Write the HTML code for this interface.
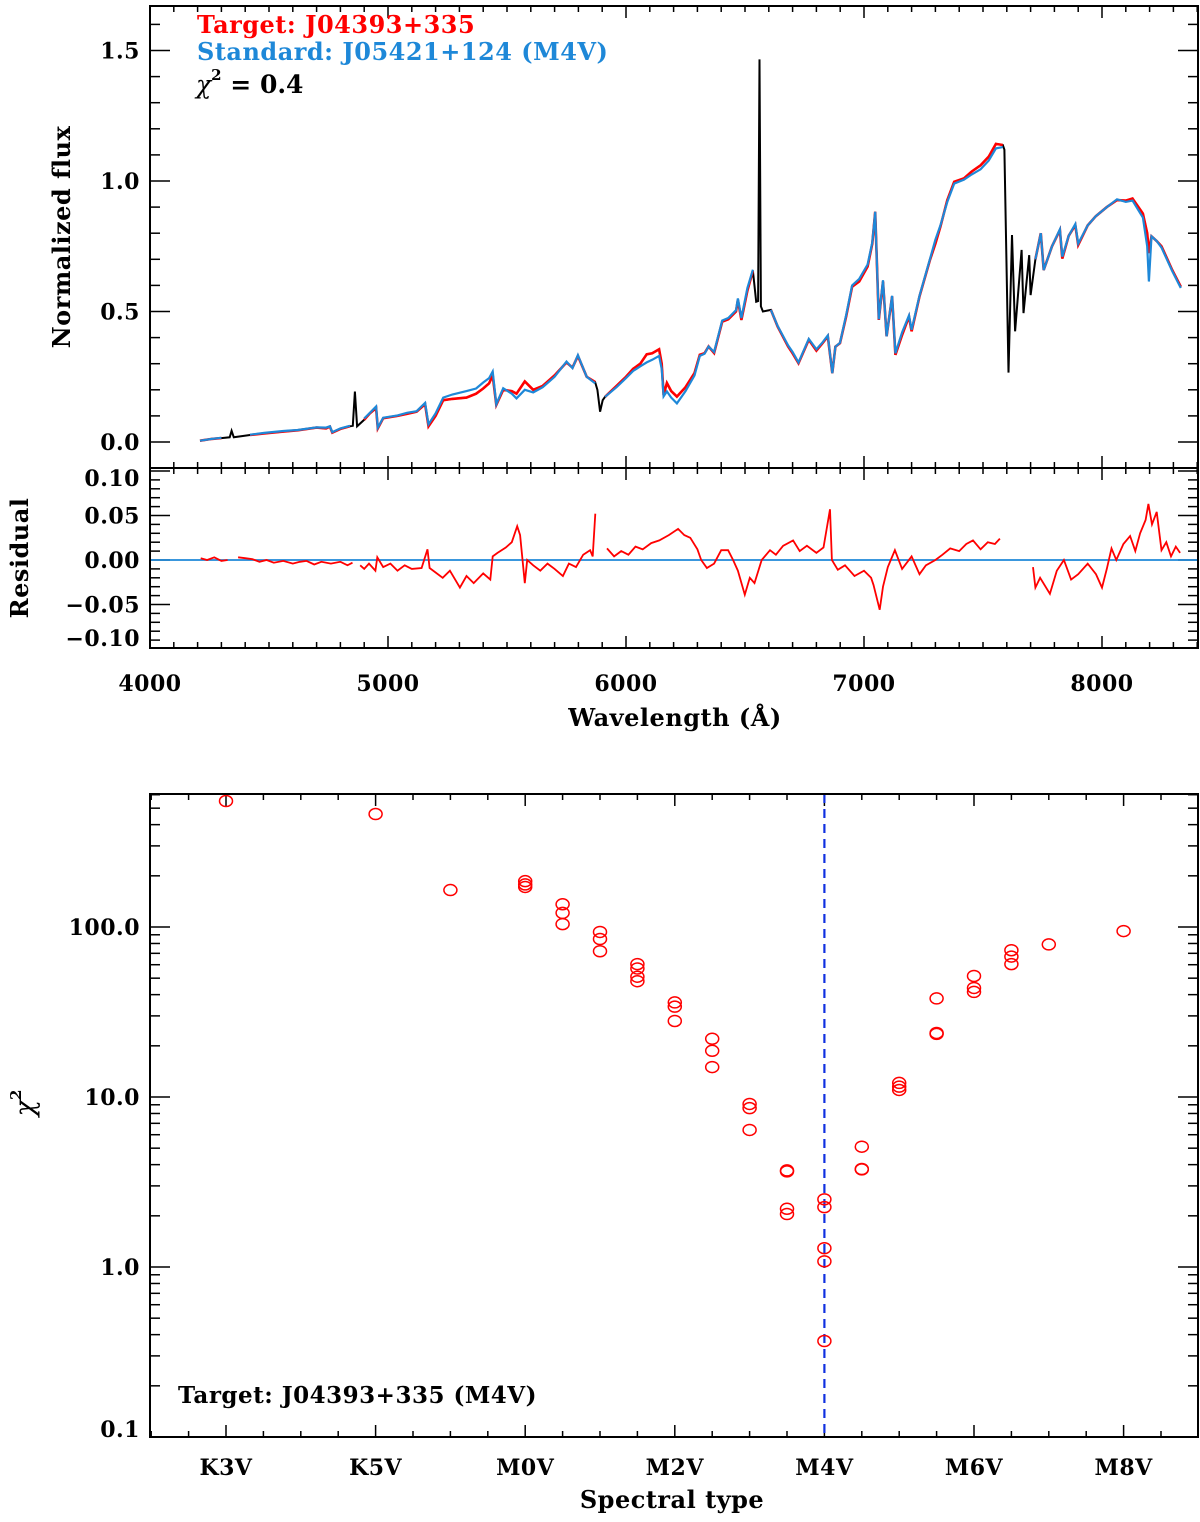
<!DOCTYPE html>
<html><head><meta charset="utf-8"><style>
html,body{margin:0;padding:0;background:#fff}
svg{display:block}
text{font-family:"DejaVu Serif","Liberation Serif",serif;font-weight:bold}
</style></head><body>
<svg id="fig" width="1200" height="1522" viewBox="0 0 1200 1522" xmlns="http://www.w3.org/2000/svg"></svg>
<script>
// ---- spectrum data ----
const wavelengths=[4210,4260,4300,4335,4343,4352,4420,4480,4560,4620,4700,4740,4756,4766,4800,4840,4852,4861,4870,4900,4924,4950,4957,4980,5040,5080,5120,5156,5170,5200,5232,5270,5330,5370,5400,5425,5440,5455,5484,5520,5540,5575,5610,5650,5700,5750,5775,5798,5835,5870,5880,5891,5902,5912,5960,6000,6030,6060,6087,6110,6139,6150,6158,6172,6190,6214,6250,6288,6310,6330,6347,6370,6404,6430,6462,6470,6485,6510,6533,6547,6555,6561,6567,6575,6609,6637,6681,6700,6725,6768,6800,6826,6848,6867,6880,6899,6925,6950,6980,7015,7035,7047,7062,7080,7095,7118,7132,7160,7189,7200,7233,7277,7300,7321,7350,7379,7420,7452,7490,7524,7554,7583,7590,7607,7622,7635,7662,7670,7694,7700,7720,7743,7755,7790,7823,7833,7860,7888,7900,7940,7974,8020,8063,8100,8128,8172,8190,8197,8208,8230,8250,8295,8331];
const targetFlux=[.005,.012,.015,.018,.043,.018,.027,.033,.040,.045,.055,.052,.059,.036,.050,.060,.062,.193,.060,.085,.110,.130,.052,.091,.100,.108,.116,.145,.060,.100,.160,.165,.170,.185,.205,.225,.255,.142,.200,.195,.185,.232,.200,.215,.255,.305,.285,.330,.250,.230,.200,.116,.160,.173,.215,.250,.280,.300,.336,.340,.355,.300,.180,.226,.195,.174,.210,.264,.334,.340,.366,.341,.461,.470,.500,.545,.468,.580,.656,.537,.540,1.466,.520,.500,.506,.443,.366,.340,.302,.392,.350,.379,.405,.264,.365,.379,.480,.595,.615,.672,.760,.882,.468,.615,.405,.558,.334,.410,.481,.424,.558,.697,.760,.825,.927,.997,1.010,1.036,1.060,1.093,1.142,1.138,1.120,.266,.793,.424,.736,.494,.716,.563,.700,.800,.659,.750,.812,.703,.790,.831,.755,.830,.865,.900,.927,.925,.933,.875,.800,.724,.788,.770,.750,.659,.595];
const standardFlux=[.005,.012,.016,.018,null,.018,.028,.035,.042,.046,.056,.055,.060,.038,.052,.062,.063,null,.060,.090,.112,.136,.055,.093,.102,.112,.118,.150,.068,.110,.170,.182,.195,.205,.228,.245,.270,.145,.206,.185,.167,.200,.190,.210,.250,.308,.283,.333,.250,.225,null,null,null,.173,.210,.245,.272,.290,.305,.315,.330,.280,.175,.194,.170,.148,.195,.255,.330,.338,.366,.345,.465,.475,.505,.550,.475,.590,.660,.540,null,null,null,.500,.506,.445,.370,.345,.305,.395,.355,.382,.408,.264,.365,.380,.485,.600,.625,.680,.765,.882,.470,.620,.405,.560,.340,.420,.485,.430,.560,.700,.775,.830,.920,.990,1.005,1.025,1.045,1.078,1.125,1.130,null,null,null,null,null,null,null,null,.700,.800,.659,.750,.815,.710,.790,.835,.760,.830,.865,.900,.930,.920,.925,.860,.750,.615,.788,.770,.745,.655,.590];
const maskedRanges=[[4330,4356],[4845,4875],[5875,5908],[6545,6580],[7587,7712]];
// ---- residual data ----
const residualWl=[4213,4240,4270,4300,4326,4330,4370,4400,4430,4460,4490,4520,4560,4600,4630,4658,4690,4720,4760,4800,4830,4851,4860,4883,4900,4920,4947,4955,4980,5010,5040,5070,5100,5141,5166,5175,5200,5230,5260,5302,5330,5360,5400,5430,5440,5460,5495,5520,5543,5555,5575,5585,5610,5640,5670,5700,5735,5760,5790,5820,5849,5860,5871,5885,5920,5950,5980,6010,6040,6070,6106,6140,6180,6219,6245,6270,6300,6316,6340,6370,6400,6429,6450,6470,6499,6520,6540,6570,6605,6630,6660,6702,6730,6760,6800,6830,6857,6865,6890,6920,6960,7000,7030,7040,7066,7080,7100,7130,7160,7200,7233,7260,7300,7330,7362,7400,7430,7458,7490,7520,7550,7571,7600,7710,7720,7740,7781,7810,7840,7870,7900,7940,7975,8000,8020,8040,8060,8090,8118,8140,8160,8183,8195,8210,8230,8250,8270,8290,8310,8328];
const residualVal=[.002,.000,.003,-.001,.000,null,.003,.002,.001,-.002,.000,-.003,-.001,-.004,-.002,-.001,-.005,-.002,-.004,-.002,-.006,-.003,null,-.006,-.010,-.004,-.012,.003,-.008,-.004,-.012,-.006,-.010,-.009,.012,-.009,-.014,-.020,-.012,-.031,-.018,-.026,-.015,-.022,.004,.008,.014,.020,.038,.028,-.026,.000,-.006,-.012,-.004,-.010,-.018,-.004,-.008,.006,.011,.004,.052,null,.013,.004,.010,.006,.015,.012,.019,.022,.028,.035,.028,.025,.012,.000,-.009,-.004,.011,.011,.000,-.012,-.039,-.020,-.026,.000,.011,.006,.016,.022,.010,.016,.008,.014,.057,.000,-.011,-.006,-.018,-.012,-.020,-.028,-.056,-.030,-.008,.011,-.010,.004,-.016,-.006,.000,.006,.013,.010,.018,.022,.012,.020,.018,.024,null,-.008,-.031,-.020,-.038,-.012,.000,-.022,-.016,-.004,-.016,-.031,-.010,.013,.000,.018,.027,.010,.030,.045,.063,.040,.054,.011,.020,.004,.015,.008,.004];
// ---- chi2 data ----
const spIndex=[0,2,3,4,4,4,4.5,4.5,4.5,5,5,5,5.5,5.5,5.5,5.5,6,6,6,6.5,6.5,6.5,7,7,7,7.5,7.5,7.5,7.5,8,8,8,8,8,8.5,8.5,8.5,9,9,9,9.5,9.5,9.5,10,10,10,10.5,10.5,10.5,11,12];
const chi2Val=[551,462,165,186,178,172,136,121,104,93.5,85,72,60.5,57,51,48,36,34,28,22,18.7,15,9.1,8.6,6.4,3.7,3.65,2.2,2.05,2.5,2.25,1.29,1.08,0.367,5.1,3.77,3.75,12.1,11.5,11,38,23.8,23.5,51.5,43.8,41.5,73,67,60.5,79,94.6];
const spTickLabels=["K3V","K5V","M0V","M2V","M4V","M6V","M8V"];
const spTickIdx=[0,2,4,6,8,10,12];
const bestIdx=8;

const NS="http://www.w3.org/2000/svg";
const svg=document.getElementById('fig');
function mk(tag,attrs,parent){const e=document.createElementNS(NS,tag);for(const k in attrs)e.setAttribute(k,attrs[k]);(parent||svg).appendChild(e);return e;}
function txt(s,x,y,size,anchor,fill,parent){const t=mk('text',{x:x,y:y,'font-size':size,'text-anchor':anchor||'start',fill:fill||'#000','letter-spacing':'0.5'},parent);t.textContent=s;return t;}

const X0=150,X1=1198;
const xW=l=>150+(l-4000)*0.238;
const yF=f=>442-f*261;
const yR=r=>560-r*890;
const xS=i=>226+i*74.8;
const yC=v=>1437-(Math.log10(v)+1)*170;
const inMask=l=>maskedRanges.some(r=>l>=r[0]&&l<=r[1]);
function pathFrom(xs,ys,fx,fy,skip){let d='',pen=false;
 for(let i=0;i<xs.length;i++){const v=ys[i];if(v===null||v===undefined||isNaN(v)||skip(xs[i])){pen=false;continue;}
  d+=(pen?'L':'M')+fx(xs[i]).toFixed(1)+','+fy(v).toFixed(1);pen=true;}return d;}

// ---------- TOP PANEL ----------
const topG=mk('g',{});


const TY0=6,TY1=468;
const tk=mk('g',{stroke:'#000','stroke-width':1.5},topG);
for(let l=4000;l<=8400;l+=100){const x=xW(l);const L=(l%1000===0)?12:6;
 mk('line',{x1:x,y1:TY0,x2:x,y2:TY0+L},tk);mk('line',{x1:x,y1:TY1,x2:x,y2:TY1-L},tk);}
for(let k=0;k<=16;k++){const f=k/10;const y=yF(f);const L=(k%5===0)?20:10;
 mk('line',{x1:X0,y1:y,x2:X0+L,y2:y},tk);mk('line',{x1:X1,y1:y,x2:X1-L,y2:y},tk);}
['0.0','0.5','1.0','1.5'].forEach((s,i)=>{const t=txt(s,140,yF(i*0.5)+8,22,'end','#000',topG);
 });
const blk=mk('path',{d:pathFrom(wavelengths,targetFlux,xW,yF,()=>false),fill:'none',stroke:'#000','stroke-width':2},topG);


const red=mk('path',{d:pathFrom(wavelengths,targetFlux,xW,yF,inMask),fill:'none',stroke:'#ff0000','stroke-width':2.6},topG);


const blu=mk('path',{d:pathFrom(wavelengths,standardFlux,xW,yF,inMask),fill:'none',stroke:'#1e88d8','stroke-width':2.2},topG);


mk('rect',{x:X0,y:TY0,width:X1-X0,height:TY1-TY0,fill:'none',stroke:'#000','stroke-width':2},topG);
let t;
t=txt('Target: J04393+335',197,33,24,'start','#ff0000',topG);

t=txt('Standard: J05421+124 (M4V)',197,60,24,'start','#1e88d8',topG);

t=mk('text',{x:196,y:93,'font-size':25,fill:'#000'},topG);
t.innerHTML='<tspan font-weight="normal" font-style="italic">χ</tspan><tspan font-size="15" dy="-13">2</tspan><tspan dy="13"> = 0.4</tspan>';

t=txt('Normalized flux',0,0,24,'middle','#000',topG);
t.setAttribute('transform','translate(70,237) rotate(-90)');


// ---------- RESIDUAL PANEL ----------
const res=mk('g',{});


const RY0=468,RY1=648;
const rtk=mk('g',{stroke:'#000','stroke-width':1.5},res);
for(let l=4000;l<=8400;l+=100){const x=xW(l);const L=(l%1000===0)?12:6;
 mk('line',{x1:x,y1:RY0,x2:x,y2:RY0+L},rtk);mk('line',{x1:x,y1:RY1,x2:x,y2:RY1-L},rtk);}
for(let k=-10;k<=10;k++){const r=k/100;const y=yR(r);if(y<RY0||y>RY1)continue;const L=(k%5===0)?20:10;
 mk('line',{x1:X0,y1:y,x2:X0+L,y2:y},rtk);mk('line',{x1:X1,y1:y,x2:X1-L,y2:y},rtk);}
const zl=mk('line',{x1:X0,y1:yR(0),x2:X1,y2:yR(0),stroke:'#1e88d8','stroke-width':1.8},res);


const rp=mk('path',{d:pathFrom(residualWl,residualVal,xW,yR,()=>false),fill:'none',stroke:'#ff0000','stroke-width':1.8},res);


mk('rect',{x:X0,y:RY0,width:X1-X0,height:RY1-RY0,fill:'none',stroke:'#000','stroke-width':2},res);
[['0.10',486],['0.05',yR(.05)+8],['0.00',yR(0)+8],['\u22120.05',yR(-.05)+8],['\u22120.10',646]].forEach(a=>{
 const e=txt(a[0],140,a[1],22,'end','#000',res);});
[4000,5000,6000,7000,8000].forEach(l=>{const e=txt(String(l),xW(l),691,22,'middle','#000',res);
 });
t=txt('Wavelength (Å)',675,726,24,'middle','#000',res);

t=txt('Residual',0,0,24,'middle','#000',res);
t.setAttribute('transform','translate(28,558) rotate(-90)');


// ---------- CHI2 PANEL ----------
const chi=mk('g',{});


const CY0=794,CY1=1437;
const ctk=mk('g',{stroke:'#000','stroke-width':1.5},chi);
for(let k=-2;k<=26;k++){const i=k/2;const x=xS(i);if(x<X0||x>X1)continue;const L=spTickIdx.includes(i)?12:6;
 mk('line',{x1:x,y1:CY1,x2:x,y2:CY1-L},ctk);mk('line',{x1:x,y1:CY0,x2:x,y2:CY0+L},ctk);}
for(let d=-1;d<=2;d++){for(let m=1;m<=9;m++){const v=m*Math.pow(10,d);const y=yC(v);if(y<CY0||y>CY1)continue;const L=(m===1)?20:10;
 mk('line',{x1:X0,y1:y,x2:X0+L,y2:y},ctk);mk('line',{x1:X1,y1:y,x2:X1-L,y2:y},ctk);}}
const bl=mk('line',{x1:xS(bestIdx),y1:CY0,x2:xS(bestIdx),y2:CY1,stroke:'#1030e0','stroke-width':2.2,'stroke-dasharray':'9,6'},chi);


spIndex.forEach((s,i)=>{
 const c=mk('ellipse',{cx:xS(s),cy:yC(chi2Val[i]),rx:6.5,ry:5.5,fill:'none',stroke:'#ff0000','stroke-width':1.5},chi);
 
 
});
mk('rect',{x:X0,y:CY0,width:X1-X0,height:CY1-CY0,fill:'none',stroke:'#000','stroke-width':2},chi);
[['100.0',100],['10.0',10],['1.0',1],['0.1',0.1]].forEach(a=>{const y=a[1]===0.1?CY1:yC(a[1])+8;
 const e=txt(a[0],140,y,22,'end','#000',chi);});
spTickLabels.forEach((s,i)=>{const e=txt(s,xS(spTickIdx[i]),1475,22,'middle','#000',chi);
 });
t=txt('Spectral type',672,1508,24,'middle','#000',chi);

t=txt('Target: J04393+335 (M4V)',178,1403,23,'start','#000',chi);

t=mk('text',{x:0,y:0,'font-size':27,fill:'#000','text-anchor':'middle'},chi);
t.innerHTML='<tspan font-weight="normal" font-style="italic">χ</tspan><tspan font-size="15" dy="-13">2</tspan>';
t.setAttribute('transform','translate(34,1103) rotate(-90)');

</script>
</body></html>
